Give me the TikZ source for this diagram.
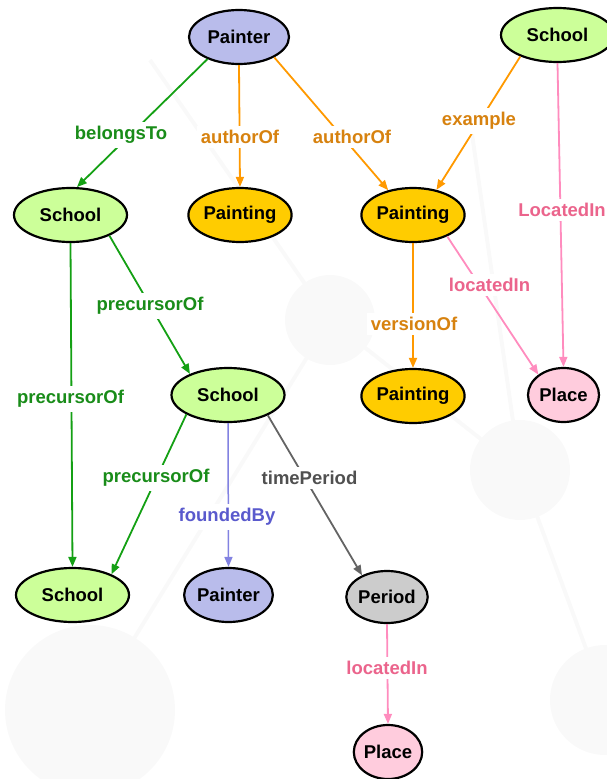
\documentclass[tikz,border=0pt]{standalone}
\usepackage{fontspec}
\setmainfont{Liberation Sans}
\usetikzlibrary{shapes.geometric,arrows.meta}

% entity fills
\definecolor{painterfill}{RGB}{185,188,235}
\definecolor{schoolfill}{RGB}{204,255,153}
\definecolor{paintingfill}{RGB}{255,204,0}
\definecolor{placefill}{RGB}{255,204,221}
\definecolor{periodfill}{RGB}{204,204,204}
% relation colours (line / text)
\definecolor{gline}{RGB}{20,160,20}
\definecolor{gtext}{RGB}{25,140,25}
\definecolor{oline}{RGB}{255,153,0}
\definecolor{otext}{RGB}{215,130,15}
\definecolor{pline}{RGB}{255,140,190}
\definecolor{ptext}{RGB}{235,100,140}
\definecolor{bline}{RGB}{130,130,225}
\definecolor{btext}{RGB}{90,90,205}
\definecolor{kline}{RGB}{100,100,100}
\definecolor{ktext}{RGB}{80,80,80}
\definecolor{haze}{RGB}{249,249,249}

\tikzset{
  entity/.style={ellipse, draw=black, line width=2.2pt, inner sep=0pt,
    font=\fontsize{18.5}{20}\selectfont\bfseries, text=black},
  painter/.style={entity, fill=painterfill, minimum width=100pt, minimum height=54pt},
  school/.style={entity, fill=schoolfill, minimum width=113pt, minimum height=54pt},
  painting/.style={entity, fill=paintingfill, minimum width=98pt, minimum height=54pt},
  place/.style={entity, fill=placefill, minimum width=71pt, minimum height=54pt},
  period/.style={entity, fill=periodfill, minimum width=80pt, minimum height=52pt},
  rel/.style={line width=1.8pt, -{Triangle[length=10pt,width=8pt]}},
  gedge/.style={rel, draw=gline},
  oedge/.style={rel, draw=oline},
  pedge/.style={rel, draw=pline},
  bedge/.style={rel, draw=bline, line width=1.5pt},
  kedge/.style={rel, draw=kline},
  lab/.style={fill=white, inner sep=4pt, font=\fontsize{18.5}{20}\selectfont\bfseries},
}

\begin{document}
\begin{tikzpicture}[x=1pt,y=-1pt]
\useasboundingbox (0,0) rectangle (606,779);

% faint network backdrop
\begin{scope}[haze]
  \fill (90,710) circle (85);
  \fill (330,320) circle (45);
  \fill (520,470) circle (50);
  \fill (605,700) circle (55);
  \draw[line width=4pt] (90,710) -- (330,320) -- (520,470) -- (605,700);
  \draw[line width=4pt] (330,320) -- (150,60);
  \draw[line width=4pt] (520,470) -- (470,120);
\end{scope}

% entities
\node[painter]  (painterT)   at (239,37)  {Painter};
\node[school]   (schoolTR)   at (557.5,35) {School};
\node[school]   (schoolL)    at (70.5,215) {School};
\node[painting] (paintingM)  at (240,215) {Painting};
\node[painting] (paintingR)  at (413,215) {Painting};
\node[school]   (schoolM)    at (228,395) {School};
\node[painting] (paintingR2) at (413,396) {Painting};
\node[place]    (placeR)     at (563.5,395) {Place};
\node[school]   (schoolBL)   at (72.5,595) {School};
\node[painter, minimum width=86pt] (painterB) at (228.5,595) {Painter};
\node[period]   (period)     at (387,597) {Period};
\node[place, minimum width=63pt] (placeB) at (388,752) {Place};

% relations
\draw[gedge] (painterT.215)  -- (schoolL.77);
\draw[oedge] (painterT.270)  -- (paintingM.90);
\draw[oedge] (painterT.330)  -- (paintingR.135);
\draw[oedge] (schoolTR.210)  -- (paintingR.47);
\draw[pedge] (schoolTR.270)  -- (placeR.90);
\draw[pedge] (paintingR.328) -- (placeR.141);
\draw[oedge] (paintingR.270) -- (paintingR2.90);
\draw[gedge] (schoolL.332)   -- (schoolM.151);
\draw[gedge] (schoolL.270)   -- (schoolBL.90);
\draw[gedge] (schoolM.205)   -- (schoolBL.28);
\draw[bedge] (schoolM.270)   -- (painterB.90);
\draw[kedge] (schoolM.333)   -- (period.139);
\draw[pedge] (period.270)    -- (placeB.90);

% relation labels
\node[lab, text=gtext] (lBelongs)  at (121,135) {belongsTo};
\node[lab, text=otext] (lAuthor1)  at (240,137) {authorOf};
\node[lab, text=otext] (lAuthor2)  at (352,137) {authorOf};
\node[lab, text=otext] (lExample)  at (479,121) {example};
\node[lab, text=ptext] (lLocTR)    at (562,210) {LocatedIn};
\node[lab, text=ptext] (lLocR)     at (489.5,285) {locatedIn};
\node[lab, text=otext] (lVersion)  at (414,324) {versionOf};
\node[lab, text=gtext] (lPrec1)    at (150,306) {precursorOf};
\node[lab, text=gtext] (lPrec2)    at (70.5,399) {precursorOf};
\node[lab, text=gtext] (lPrec3)    at (156,478) {precursorOf};
\node[lab, text=btext] (lFounded)  at (227,517) {foundedBy};
\node[lab, text=ktext] (lTime)     at (309.5,478) {timePeriod};
\node[lab, text=ptext] (lLocB)     at (387,668) {locatedIn};
\end{tikzpicture}
\end{document}
